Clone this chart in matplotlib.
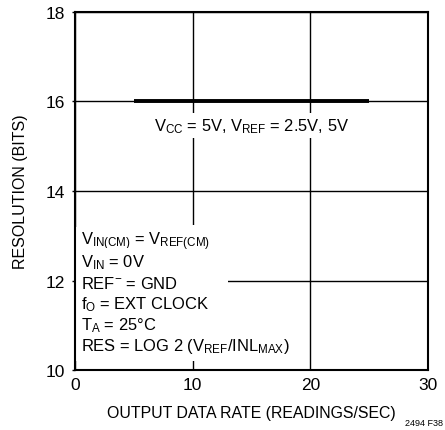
import matplotlib
matplotlib.use("Agg")
import matplotlib.pyplot as plt
from matplotlib.patches import Rectangle

plt.rcParams['font.family'] = ['Liberation Sans', 'DejaVu Sans']
plt.rcParams['mathtext.fontset'] = 'custom'
plt.rcParams['mathtext.rm'] = 'Liberation Sans'
plt.rcParams['mathtext.it'] = 'Liberation Sans'

# resolution vs output data rate
rate = [5, 25]
bits = [16, 16]

x_ticks = [0, 10, 20, 30]
y_ticks = [10, 12, 14, 16, 18]

conditions = [
    r"V$_{\mathrm{IN(CM)}}$ = V$_{\mathrm{REF(CM)}}$",
    r"V$_{\mathrm{IN}}$ = 0V",
    r"REF$^{-}$ = GND",
    r"f$_{\mathrm{O}}$ = EXT CLOCK",
    r"T$_{\mathrm{A}}$ = 25°C",
    r"RES = LOG 2 (V$_{\mathrm{REF}}$/INL$_{\mathrm{MAX}}$)",
]
curve_label = r"V$_{\mathrm{CC}}$ = 5V, V$_{\mathrm{REF}}$ = 2.5V, 5V"

fig = plt.figure(figsize=(4.45, 4.31), dpi=100)
ax = fig.add_axes([0.1685, 0.139, 0.7935, 0.831])

ax.plot(rate, bits, color='black', lw=2.8, solid_capstyle='butt', zorder=3)

ax.set_xlim(0, 30)
ax.set_ylim(10, 18)
ax.set_xticks(x_ticks)
ax.set_yticks(y_ticks)
ax.grid(True, color='black', lw=1.0)
for s in ax.spines.values():
    s.set_linewidth(1.5)
ax.tick_params(axis='y', length=2, width=1, labelsize=12.5, pad=5)
ax.tick_params(axis='x', length=0, labelsize=12.5, pad=5)

ax.set_xlabel("OUTPUT DATA RATE (READINGS/SEC)", fontsize=11.4, labelpad=9)
ax.set_ylabel("RESOLUTION (BITS)", fontsize=11.5, labelpad=13)

ax.text(15, 15.46, curve_label, ha='center', va='center', fontsize=11.9,
        bbox=dict(facecolor='white', edgecolor='none', pad=2), zorder=4)

# white backing behind the conditions block so the grid stops under it
ax.add_patch(Rectangle((0.1, 10.2), 12.9, 3.0, facecolor='white',
                       edgecolor='none', zorder=2))

y0 = 12.89
for i, line in enumerate(conditions):
    ax.text(0.55, y0 - i * 0.467, line, ha='left', va='center', fontsize=11.9,
            bbox=dict(facecolor='white', edgecolor='none', pad=3), zorder=4)

fig.text(0.995, 0.017, "2494 F38", fontsize=6.5, ha='right', va='center')

fig.savefig("out.png", dpi=100)
